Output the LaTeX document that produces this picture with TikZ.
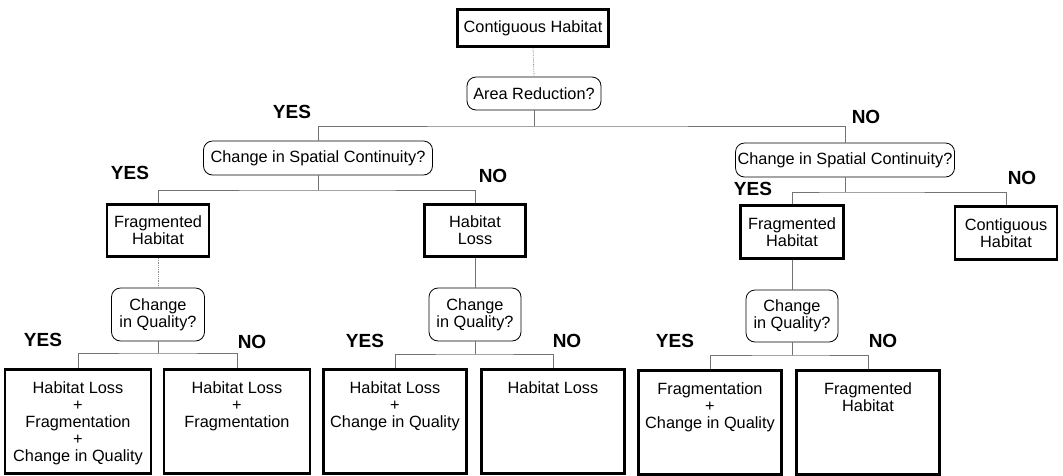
\documentclass[tikz,border=0pt]{standalone}
\usepackage{fontspec}
\setmainfont{Liberation Sans}
\begin{document}
\begin{tikzpicture}[x=1pt,y=-1pt,
  every node/.style={font=\fontsize{16.3}{17}\selectfont, align=center, inner sep=0pt},
  thick box/.style={draw=black, line width=2.8pt, rectangle},
  qbox/.style={draw=black, line width=0.8pt, rounded corners=9pt, rectangle},
  resbox/.style={draw=black, line width=2.8pt, rectangle, anchor=north, inner ysep=12pt, inner xsep=2pt},
  conn/.style={draw=black!55, line width=0.8pt},
  faint/.style={draw=black!45, line width=0.8pt, densely dotted},
  lab/.style={font=\fontsize{19}{19}\selectfont\bfseries}
]
\useasboundingbox (0,0) rectangle (1063,475);
\newcommand\restext[2]{\parbox[t][80pt][t]{#1}{\centering #2}}

% top level
\node[thick box, minimum width=151pt, minimum height=37pt] (top) at (533,28) {Contiguous Habitat};
\node[qbox, minimum width=134pt, minimum height=33pt] (ar) at (534,93.5) {Area Reduction?};

% spatial continuity
\node[qbox, minimum width=229pt, minimum height=34pt] (sl) at (318,158) {Change in Spatial Continuity?};
\node[qbox, minimum width=219pt, minimum height=34pt] (sr) at (845,160) {Change in Spatial Continuity?};

% middle boxes
\node[thick box, minimum width=102pt, minimum height=52pt] (fl) at (158,230.5) {Fragmented\\Habitat};
\node[thick box, minimum width=101pt, minimum height=52pt] (hl) at (475,230.5) {Habitat\\Loss};
\node[thick box, minimum width=103pt, minimum height=53pt] (fr) at (792,232) {Fragmented\\Habitat};
\node[thick box, minimum width=102pt, minimum height=53pt] (ct) at (1006,233) {Contiguous\\Habitat};

% quality questions
\node[qbox, minimum width=93pt, minimum height=53pt] (ql) at (158,314.5) {Change\\in Quality?};
\node[qbox, minimum width=92pt, minimum height=53pt] (qm) at (475,314.5) {Change\\in Quality?};
\node[qbox, minimum width=92pt, minimum height=52pt] (qr) at (792,316) {Change\\in Quality?};

% results
\node[resbox, minimum width=146pt, minimum height=103pt] (b1) at (78,368) {\restext{140pt}{Habitat Loss\\+\\Fragmentation\\+\\Change in Quality}};
\node[resbox, minimum width=146pt, minimum height=103pt] (b2) at (237,368) {\restext{140pt}{Habitat Loss\\+\\Fragmentation}};
\node[resbox, minimum width=143pt, minimum height=103pt] (b3) at (395,368) {\restext{138pt}{Habitat Loss\\+\\Change in Quality}};
\node[resbox, minimum width=143pt, minimum height=103pt] (b4) at (553,368) {\restext{138pt}{Habitat Loss}};
\node[resbox, minimum width=143pt, minimum height=103pt] (b5) at (710,369) {\restext{138pt}{Fragmentation\\+\\Change in Quality}};
\node[resbox, minimum width=143pt, minimum height=103pt] (b6) at (868,369) {\restext{138pt}{Fragmented\\Habitat}};

% connectors
\coordinate (j1) at (534,126);
\draw[faint] (top.south) -- (ar.north);
\draw[conn] (ar.south) -- (j1);
\draw[conn] (sl.north) |- (j1) -| (sr.north);

\coordinate (j2) at (318,190);
\draw[conn] (sl.south) -- (j2);
\draw[conn] (fl.north) |- (j2) -| (hl.north);

\coordinate (j3) at (845,192);
\draw[conn] (sr.south) -- (j3);
\draw[conn] (fr.north) |- (j3) -| (ct.north);

\draw[faint] (fl.south) -- (ql.north);
\draw[conn] (hl.south) -- (qm.north);
\draw[conn] (fr.south) -- (qr.north);

\coordinate (j4) at (158,353);
\draw[conn] (ql.south) -- (j4);
\draw[conn] (b1.north) |- (j4) -| (b2.north);

\coordinate (j5) at (475,354);
\draw[conn] (qm.south) -- (j5);
\draw[conn] (b3.north) |- (j5) -| (b4.north);

\coordinate (j6) at (792,355);
\draw[conn] (qr.south) -- (j6);
\draw[conn] (b5.north) |- (j6) -| (b6.north);

% labels
\node[lab] (y1) at (292,112) {YES};
\node[lab] (n1) at (866,117) {NO};
\node[lab] (y2) at (130,173) {YES};
\node[lab] (n2) at (493,176) {NO};
\node[lab] (y3) at (753,189) {YES};
\node[lab] (n3) at (1022,178) {NO};
\node[lab] (y4) at (43,340) {YES};
\node[lab] (n4) at (252,342) {NO};
\node[lab] (y5) at (365,341) {YES};
\node[lab] (n5) at (567,341) {NO};
\node[lab] (y6) at (675,341) {YES};
\node[lab] (n6) at (883,341) {NO};
\end{tikzpicture}
\end{document}
